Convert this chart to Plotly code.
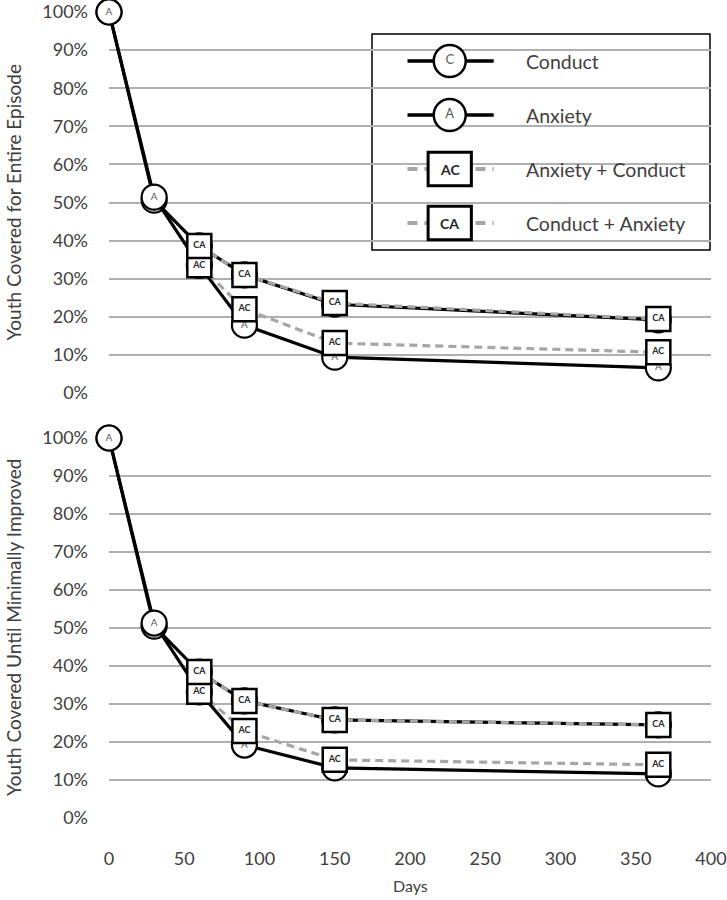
import plotly.graph_objects as go

# ---------------- data ----------------
days = [0, 30, 60, 90, 150, 365]
days_combo = [60, 90, 150, 365]

# Top panel: Youth Covered for Entire Episode
top_conduct = [1.00, 0.506, 0.386, 0.310, 0.233, 0.192]
top_anxiety = [1.00, 0.514, 0.335, 0.178, 0.094, 0.066]
top_ac = [0.335, 0.220, 0.131, 0.107]
top_ca = [0.386, 0.310, 0.236, 0.194]

# Bottom panel: Youth Covered Until Minimally Improved
bot_conduct = [1.00, 0.505, 0.384, 0.308, 0.258, 0.245]
bot_anxiety = [1.00, 0.513, 0.332, 0.192, 0.132, 0.116]
bot_ac = [0.332, 0.229, 0.153, 0.140]
bot_ca = [0.384, 0.308, 0.258, 0.245]

x_ticks = [0, 50, 100, 150, 200, 250, 300, 350, 400]
y_ticks = [0, 0.1, 0.2, 0.3, 0.4, 0.5, 0.6, 0.7, 0.8, 0.9, 1.0]

legend_names = ["Conduct", "Anxiety", "Anxiety + Conduct", "Conduct + Anxiety"]
legend_letters = ["C", "A", "AC", "CA"]

# ---------------- styles ----------------
FONT = "Lato"
TXT = "#404040"
GRID = "#b0b0b0"
GRAYLINE = "#a6a6a6"

fig = go.Figure()


def circle_trace(x, y, letter, xa, ya, size=25, fsize=10):
    return go.Scatter(
        x=x, y=y, xaxis=xa, yaxis=ya,
        mode="lines+markers+text",
        line=dict(color="black", width=3.2),
        marker=dict(symbol="circle", size=size, color="white",
                    line=dict(color="black", width=2.2)),
        text=[letter] * len(x), textposition="middle center",
        textfont=dict(family=FONT, size=fsize, color="#595959"),
        cliponaxis=False, showlegend=False, hoverinfo="skip",
    )


def square_trace(x, y, letter, xa, ya, size=24, fsize=9):
    return go.Scatter(
        x=x, y=y, xaxis=xa, yaxis=ya,
        mode="lines+markers+text",
        line=dict(color=GRAYLINE, width=3.2, dash="8px,5px"),
        marker=dict(symbol="square", size=size, color="white",
                    line=dict(color="black", width=2.5)),
        text=["<b>%s</b>" % letter] * len(x), textposition="middle center",
        textfont=dict(family=FONT, size=fsize, color="#262626"),
        cliponaxis=False, showlegend=False, hoverinfo="skip",
    )


for (c, a, ac, ca, xa, ya) in [
    (top_conduct, top_anxiety, top_ac, top_ca, "x", "y"),
    (bot_conduct, bot_anxiety, bot_ac, bot_ca, "x2", "y2"),
]:
    fig.add_trace(circle_trace(days, c, "C", xa, ya))
    fig.add_trace(circle_trace(days, a, "A", xa, ya))
    fig.add_trace(square_trace(days_combo, ac, "AC", xa, ya))
    fig.add_trace(square_trace(days_combo, ca, "CA", xa, ya))

# ---------------- manual legend (own axis in legend box) ----------------
leg_rows = [0, 1, 2, 3]
for i, (name, letter) in enumerate(zip(legend_names, legend_letters)):
    lx = [0.105, 0.36]
    mx = 0.23
    if i < 2:
        fig.add_trace(go.Scatter(
            x=lx, y=[leg_rows[i]] * 2, xaxis="x3", yaxis="y3",
            mode="lines", line=dict(color="black", width=3.5),
            cliponaxis=False, showlegend=False, hoverinfo="skip"))
        fig.add_trace(go.Scatter(
            x=[mx], y=[leg_rows[i]], xaxis="x3", yaxis="y3",
            mode="markers+text",
            marker=dict(symbol="circle", size=32, color="white",
                        line=dict(color="black", width=2.5)),
            text=[letter], textposition="middle center",
            textfont=dict(family=FONT, size=13, color="#595959"),
            cliponaxis=False, showlegend=False, hoverinfo="skip"))
    else:
        fig.add_trace(go.Scatter(
            x=lx, y=[leg_rows[i]] * 2, xaxis="x3", yaxis="y3",
            mode="lines", line=dict(color=GRAYLINE, width=4, dash="10px,7px"),
            cliponaxis=False, showlegend=False, hoverinfo="skip"))
        fig.add_shape(type="rect", xref="x3", yref="y3",
                      x0=mx - 0.064, x1=mx + 0.064,
                      y0=leg_rows[i] - 0.31, y1=leg_rows[i] + 0.31,
                      fillcolor="white", line=dict(color="black", width=3),
                      layer="above")
        fig.add_annotation(x=mx, y=leg_rows[i], xref="x3", yref="y3",
                           text="<b>%s</b>" % letter, showarrow=False,
                           xanchor="center", yanchor="middle",
                           font=dict(family=FONT, size=14, color="#262626"))
    fig.add_annotation(x=0.45, y=leg_rows[i], xref="x3", yref="y3",
                       text=name, showarrow=False, xanchor="left", yanchor="middle",
                       font=dict(family=FONT, size=19.5, color=TXT))

# geometry (screen pixels)
W, H = 727, 900
L, R, T, B = 109, 16, 12, 900 - 818
plot_h = H - T - B


def py(p):
    return (H - B - p) / plot_h


def px(p):
    return (p - L) / (W - L - R)


top_dom = [py(393), 1.0]
bot_dom = [0.0, py(438)]

fig.add_shape(type="rect", xref="paper", yref="paper",
              x0=px(372), x1=px(710), y0=py(250), y1=py(34),
              line=dict(color="black", width=1.5), fillcolor="white",
              layer="below")

# axis titles as annotations
fig.add_annotation(x=px(13), y=(top_dom[0] + top_dom[1]) / 2, xref="paper", yref="paper",
                   xanchor="center", yanchor="middle",
                   text="Youth Covered for Entire Episode", textangle=-90,
                   showarrow=False, font=dict(family=FONT, size=19, color=TXT))
fig.add_annotation(x=px(13), y=(bot_dom[0] + bot_dom[1]) / 2, xref="paper", yref="paper",
                   xanchor="center", yanchor="middle",
                   text="Youth Covered Until Minimally Improved", textangle=-90,
                   showarrow=False, font=dict(family=FONT, size=19, color=TXT))
fig.add_annotation(x=px(410), y=py(886), xref="paper", yref="paper",
                   xanchor="center", yanchor="middle",
                   text="Days", showarrow=False,
                   font=dict(family=FONT, size=16, color=TXT))

axis_common = dict(showline=False, zeroline=False, ticks="", automargin=False,
                   ticklabeloverflow="allow",
                   tickfont=dict(family=FONT, size=18, color=TXT))

fig.update_layout(
    width=W, height=H,
    margin=dict(l=L, r=R, t=T, b=B, autoexpand=False),
    paper_bgcolor="white", plot_bgcolor="rgba(0,0,0,0)",
    font=dict(family=FONT, color=TXT),
    xaxis=dict(domain=[0, 1], range=[0, 400], tickvals=x_ticks,
               showticklabels=False, showgrid=False, anchor="y", **axis_common),
    yaxis=dict(domain=top_dom, range=[0, 1], tickvals=y_ticks, tickformat=".0%",
               showgrid=True, gridcolor=GRID, gridwidth=1.6, anchor="x",
               ticklabelstandoff=20, **axis_common),
    xaxis2=dict(domain=[0, 1], range=[0, 400], tickvals=x_ticks, anchor="y2",
                showgrid=False, ticklabelstandoff=28, **axis_common),
    yaxis2=dict(domain=bot_dom, range=[0, 1], tickvals=y_ticks, tickformat=".0%",
                showgrid=True, gridcolor=GRID, gridwidth=1.6, anchor="x2",
                ticklabelstandoff=20, **axis_common),
    xaxis3=dict(domain=[px(372), px(710)], range=[0, 1], visible=False,
                anchor="y3", fixedrange=True),
    yaxis3=dict(domain=[py(250), py(34)], range=[3.5, -0.5], visible=False,
                anchor="x3", fixedrange=True),
)

fig.write_html("out.html", config={"displayModeBar": False},
               post_script="document.body.style.margin='0px';document.body.style.overflow='hidden';")
